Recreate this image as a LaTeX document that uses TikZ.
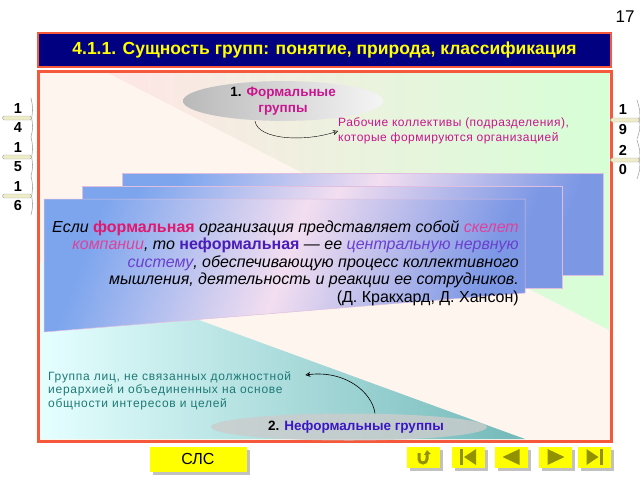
\documentclass[tikz,border=0pt]{standalone}
\usepackage{fontspec}
\setmainfont{Liberation Sans}
\usetikzlibrary{arrows.meta, shapes.geometric, shadows, positioning}

\definecolor{navy}{HTML}{000080}
\definecolor{frameRed}{HTML}{F5583A}
\definecolor{cream}{HTML}{FDF5EE}
\definecolor{quoteBlue}{HTML}{7CA5EE}
\definecolor{quotePink}{HTML}{F3DEF0}
\definecolor{formalPink}{HTML}{C8168E}
\definecolor{rosePink}{HTML}{E2186E}
\definecolor{lightRose}{HTML}{E0409A}
\definecolor{violetBlue}{HTML}{4A1CB8}
\definecolor{violetText}{HTML}{6A3FD0}
\definecolor{tealText}{HTML}{1F7A76}
\definecolor{navYellow}{HTML}{FFFF00}
\definecolor{navIcon}{HTML}{929200}
\definecolor{tabBar}{HTML}{EEEDC8}

\tikzstyle{layer} = [draw=violet!25, line width=0.5pt, left color=quoteBlue,
   right color=quoteBlue!92!violet, middle color=quotePink, shading angle=70]
\tikzstyle{groupoval} = [ellipse, inner sep=0pt, font=\bfseries\fontsize{13.5}{16}\selectfont]
\tikzstyle{arrowline} = [thin, -{Stealth[open,length=5pt,width=5pt]}]
\tikzstyle{navbtn} = [fill=navYellow, minimum width=33pt, minimum height=21pt, inner sep=0pt,
   drop shadow={shadow xshift=3pt, shadow yshift=-3pt, fill=gray!60, opacity=0.8}]
\tikzstyle{navshape} = [fill=navIcon]
\tikzstyle{tabdigit} = [font=\bfseries\fontsize{14.5}{14.5}\selectfont, inner sep=0pt]
\tikzstyle{tabbar} = [draw=gray!70, fill=tabBar, minimum width=29pt, minimum height=4pt,
   inner sep=0pt, rounded corners=1.5pt]
\tikzstyle{tabedge} = [gray!70, line width=0.6pt]

\begin{document}
\begin{tikzpicture}[x=1pt, y=-1pt]
  \useasboundingbox (0,0) rectangle (640,480);

  \node (pagenum) at (625,17) {\fontsize{17}{17}\selectfont 17};

  % title bar
  \node[draw=frameRed, line width=2.5pt, fill=navy, minimum width=573pt, minimum height=34pt,
    text=navYellow, font=\bfseries\fontsize{17.5}{18}\selectfont] (title) at (324.5,50)
    {4.1.1. Сущность групп: понятие, природа, классификация};

  % frame and background wedges
  \draw[frameRed, line width=3pt, fill=cream] (38,71) rectangle (611,441);
  \shade[left color=pink!40, right color=green!16] (108,73) -- (609,73) -- (609,330) -- cycle;
  \shade[left color=cyan!10, middle color=yellow!25, right color=teal!55]
    (40,262) -- (525,439) -- (40,439) -- cycle;

  % stacked quote cards
  \path[layer] (122,173) rectangle (603,275);
  \path[layer] (82,186) rectangle (562,288);
  \path[layer] (44,199) -- (525,199) -- (525,293) -- (44,332) -- cycle;

  \node[anchor=north east, align=right, inner sep=0pt,
    font=\itshape\fontsize{16}{17.5}\selectfont] (quote) at (519,220)
    {Если \textbf{\upshape\textcolor{rosePink}{формальная}} организация представляет собой \textcolor{lightRose}{скелет}\\
     \textcolor{lightRose}{компании}, то \textbf{\upshape\textcolor{violetBlue}{неформальная}} — ее \textcolor{violetText}{центральную нервную}\\
     \textcolor{violetText}{систему}, обеспечивающую процесс коллективного\\
     мышления, деятельность и реакции ее сотрудников.\\
     \upshape(Д. Кракхард, Д. Хансон)};

  % formal groups
  \node[groupoval, minimum width=200pt, minimum height=34pt, align=center,
    left color=gray!55, right color=gray!8] (formal) at (283,101)
    {1. \textcolor{formalPink}{Формальные}\\ \textcolor{formalPink}{группы}};
  \node[anchor=west, align=left, inner sep=0pt, text=formalPink,
    font=\fontsize{12}{14.5}\selectfont\addfontfeatures{LetterSpace=4}] (formalnote) at (338,131)
    {Рабочие коллективы (подразделения),\\ которые формируются организацией};
  \draw[arrowline] ([xshift=-28pt]formal.south) .. controls (258,140) and (305,142) .. (formalnote.west);

  % informal groups
  \node[groupoval, minimum width=276pt, minimum height=27pt, fill=gray!40, fill opacity=0.8,
    text opacity=1] (informal) at (349,427) {\hspace{14pt}2. \textcolor{violetBlue!80!blue}{Неформальные группы}};
  \node[anchor=north west, align=left, inner sep=0pt, text=tealText,
    font=\fontsize{12}{13.5}\selectfont\addfontfeatures{LetterSpace=6}] (informalnote) at (48,371)
    {Группа лиц, не связанных должностной\\ иерархией и объединенных на основе\\ общности интересов и целей};
  \draw[arrowline, semithick] ([xshift=26pt]informal.north) .. controls (372,392) and (345,370)
    .. ([xshift=14pt,yshift=-4pt]informalnote.north east);

  % side tabs
  \foreach \n/\hi/\lo/\y in {a/1/4/118, b/1/5/157, c/1/6/196} {
    \node[tabdigit] (lt\n hi) at (18,\y-9) {\hi};
    \node[tabbar] (lt\n bar) at (17,\y) {};
    \node[tabdigit] (lt\n lo) at (18,\y+10) {\lo};
    \draw[tabedge] (31,\y-20) .. controls (33,\y-10) .. (lt\n bar.east) .. controls (33,\y+10) .. (31,\y+19);
  }
  \foreach \n/\hi/\lo/\y in {a/1/9/120, b/2/0/160} {
    \node[tabdigit] (rt\n hi) at (623,\y-10) {\hi};
    \node[tabbar] (rt\n bar) at (625,\y) {};
    \node[tabdigit] (rt\n lo) at (623,\y+10) {\lo};
    \draw[tabedge] (637,\y-20) .. controls (640,\y-10) .. (rt\n bar.east) .. controls (640,\y+10) .. (637,\y+19);
  }

  % bottom buttons
  \node[navbtn, minimum width=97pt, minimum height=25pt, font=\fontsize{16}{16}\selectfont] (slc) at (198,459) {СЛС};
  \node[navbtn] (back) at (423,457) {};
  \node[navbtn] (first) at (468,457) {};
  \node[navbtn] (prev) at (511.5,457) {};
  \node[navbtn] (next) at (555.5,457) {};
  \node[navbtn] (last) at (594.5,457) {};

  \draw[navIcon, line width=3pt] ([shift={(-4,-4)}]back.center) -- ++(0,6) arc[start angle=180, end angle=360, radius=4pt] -- ++(0,-5);
  \fill[navshape] ([shift={(1,-2)}]back.center) -- ++(3,-5) -- ++(4,4) -- cycle;
  \fill[navshape] ([shift={(-8,-8)}]first.center) rectangle ++(3,16);
  \fill[navshape] ([shift={(-4,0)}]first.center) -- ++(12,-8) -- ++(0,16) -- cycle;
  \fill[navshape] ([shift={(-9,0)}]prev.center) -- ++(17,-8) -- ++(0,16) -- cycle;
  \fill[navshape] ([shift={(9,0)}]next.center) -- ++(-17,-8) -- ++(0,16) -- cycle;
  \fill[navshape] ([shift={(4,0)}]last.center) -- ++(-12,-8) -- ++(0,16) -- cycle;
  \fill[navshape] ([shift={(5,-8)}]last.center) rectangle ++(3,16);
\end{tikzpicture}
\end{document}
